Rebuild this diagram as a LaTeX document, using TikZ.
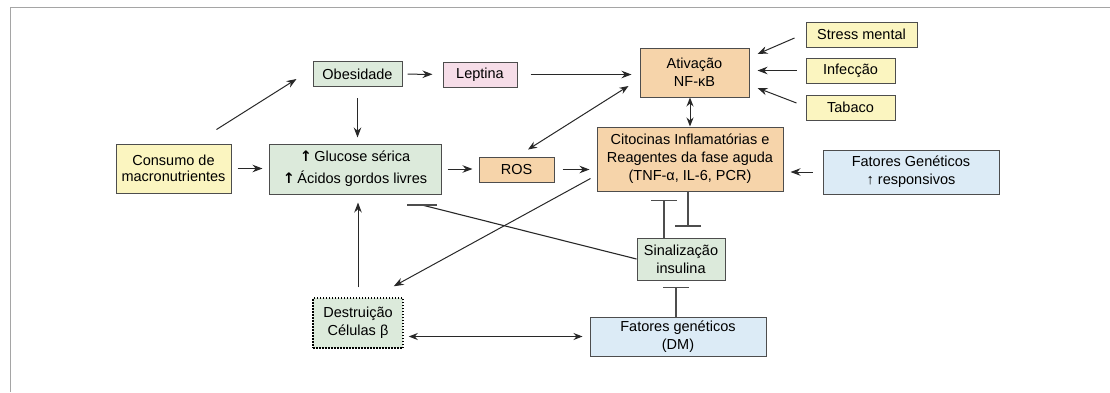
\documentclass[tikz,border=0pt]{standalone}
\usepackage{fontspec}
\setmainfont{Liberation Sans}
\newfontfamily\symfont{DejaVu Sans}
\usetikzlibrary{arrows.meta,calc}

\definecolor{amarelo}{RGB}{251,245,192}
\definecolor{verde}{RGB}{220,234,219}
\definecolor{rosa}{RGB}{246,221,232}
\definecolor{laranja}{RGB}{246,212,170}
\definecolor{azul}{RGB}{220,235,246}
\definecolor{contorno}{RGB}{77,77,77}
\definecolor{traco}{RGB}{40,40,40}
\definecolor{moldura}{RGB}{165,165,165}

\tikzset{
  caixa/.style={draw=contorno, line width=1pt, align=center, inner sep=2pt,
    font=\fontsize{14.5}{18}\selectfont},
  seta/.style={draw=traco, line width=1pt, -{Stealth[length=10pt,width=7.5pt]}},
  setadupla/.style={draw=traco, line width=1pt,
    {Stealth[length=9pt,width=7pt]}-{Stealth[length=9pt,width=7pt]}},
  inibe/.style={draw=contorno, line width=1.1pt, -{Bar[width=26pt,line width=1.3pt]}},
}

\begin{document}
\begin{tikzpicture}[x=1pt, y=-1pt]
  \useasboundingbox (0,0) rectangle (1110,392);
  %% moldura
  \draw[moldura, line width=1.6pt] (10.5,392) -- (10.5,7.5) -- (1110,7.5);

  %% --- caixas ---
  \node[caixa, fill=amarelo, minimum width=115pt, minimum height=49pt] (consumo)
    at (173.5,168.5) {Consumo de\\[-1.5pt]macronutrientes};
  \node[caixa, fill=verde, minimum width=89pt, minimum height=25pt] (obes)
    at (357.5,74) {Obesidade};
  \node[caixa, fill=rosa, minimum width=74pt, minimum height=25pt] (lept)
    at (480,74.5) {Leptina};
  \node[caixa, fill=laranja, minimum width=109pt, minimum height=49pt] (ativ)
    at (694.5,72.5) {Ativação\\NF-κB};
  \node[caixa, fill=amarelo, minimum width=111pt, minimum height=25pt] (stress)
    at (861.5,34.5) {Stress mental};
  \node[caixa, fill=amarelo, minimum width=89pt, minimum height=25pt] (infec)
    at (850.5,70.5) {Infecção};
  \node[caixa, fill=amarelo, minimum width=89pt, minimum height=25pt] (tabaco)
    at (850.5,107.5) {Tabaco};
  \node[caixa, fill=verde, minimum width=172pt, minimum height=50pt] (glucose)
    at (355,169) {{\symfont\bfseries ↑}\,Glucose sérica\\[4pt]{\symfont\bfseries ↑}\,Ácidos gordos livres};
  \node[caixa, fill=laranja, minimum width=75pt, minimum height=25pt] (ros)
    at (516.5,169.5) {ROS};
  \node[caixa, fill=laranja, minimum width=186pt, minimum height=64pt] (cito)
    at (690,159) {Citocinas Inflamatórias e\\Reagentes da fase aguda\\(TNF-α, IL-6, PCR)};
  \node[caixa, fill=azul, minimum width=176pt, minimum height=44pt] (fatg)
    at (911,172) {Fatores Genéticos\\↑ responsivos};
  \node[caixa, fill=verde, minimum width=88pt, minimum height=42pt] (sinal)
    at (681,259) {Sinalização\\insulina};
  \node[caixa, fill=verde, draw=black, line width=1.5pt, dash pattern=on 1.5pt off 1.5pt,
    minimum width=90pt, minimum height=50pt] (destr)
    at (358,323) {Destruição\\Células β};
  \node[caixa, fill=azul, minimum width=176pt, minimum height=39pt] (dm)
    at (678,336.5) {Fatores genéticos\\(DM)};

  %% --- setas ---
  \draw[seta] ($(consumo.north east)+(-15,-14)$) -- ($(obes.west)+(-16,5)$);
  \draw[seta] (consumo.east) ++(6,0) -- ($(consumo.east -| glucose.west)+(-6,0)$);
  \draw[seta, shorten <=11pt, shorten >=6pt] (obes.south) -- (obes.south |- glucose.north);
  \draw[seta, shorten <=5pt, shorten >=10pt] (obes) -- (lept);
  \draw[seta, shorten <=13pt, shorten >=8pt] (lept.east) -- (lept.east -| ativ.west);
  \draw[seta] ($(stress.west)+(-11,3.5)$) -- ($(ativ.east)+(8,-18.5)$);
  \draw[seta, shorten <=9pt, shorten >=8pt] (infec.west) -- (infec.west -| ativ.east);
  \draw[seta] ($(tabaco.west)+(-9,-4.5)$) -- ($(ativ.east)+(8,15.5)$);
  \draw[setadupla] (cito.north) -- (cito.north |- ativ.south);
  \draw[setadupla] ($(ros.north)+(11.5,-7)$) -- ($(ativ.west)+(-11,13.5)$);
  \draw[seta, shorten <=6pt, shorten >=6pt] (glucose.east) -- (glucose.east -| ros.west);
  \draw[seta, shorten <=8pt, shorten >=7pt] (ros.east) -- (ros.east -| cito.west);
  \draw[seta, shorten <=10pt, shorten >=7pt] (fatg.west) -- (fatg.west -| cito.east);
  \draw[seta] ($(cito.south west)+(-6,-13)$) -- ($(destr.north east)+(-10,-11)$);
  \draw[seta, shorten <=10pt, shorten >=8pt] (destr.north) -- (destr.north |- glucose.south);
  \draw[setadupla, shorten <=5pt, shorten >=7pt] (dm.west -| destr.east) -- (dm.west);

  %% --- inibições ---
  \coordinate (gbar) at (422,205);
  \draw[traco, line width=1.1pt] (sinal.west) -- (gbar);
  \draw[contorno, line width=1.3pt] ($(gbar)+(-15,0)$) -- ($(gbar)+(15,0)$);
  \draw[inibe] ($(sinal.north)+(-17,0)$) -- ++(0,-38);
  \draw[inibe] ($(cito.south)+(-2,0)$) -- ++(0,35);
  \draw[inibe] ($(dm.north)+(-2,0)$) -- ++(0,-30);
\end{tikzpicture}
\end{document}
